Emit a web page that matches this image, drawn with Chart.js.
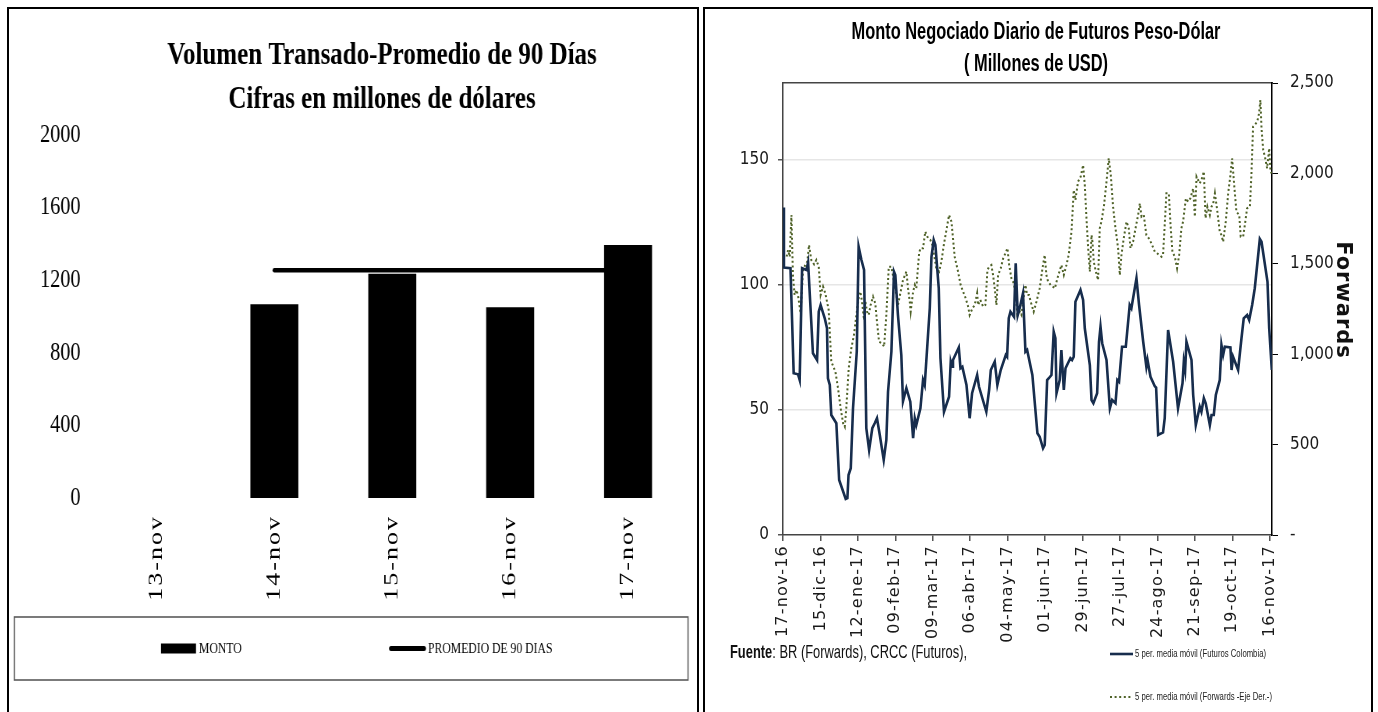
<!DOCTYPE html>
<html><head><meta charset="utf-8">
<script src="https://cdn.jsdelivr.net/npm/chart.js@4.4.1/dist/chart.umd.min.js"></script>
<style>
html,body{margin:0;padding:0;background:#fff;}
body{width:1378px;height:712px;overflow:hidden;position:relative;}
.panel{position:absolute;top:7px;height:716px;border:2px solid #000;box-sizing:border-box;overflow:hidden;background:#fff;}
#p1{left:7px;width:692px;}
#p2{left:703px;width:670px;}
#w1{width:882px;height:703px;transform:scaleX(0.78);transform-origin:0 0;}
canvas{display:block;}
</style></head><body>
<div class="panel" id="p1"><div id="w1"><canvas id="c1" width="882" height="703"></canvas></div></div>
<div class="panel" id="p2"><canvas id="c2" width="666" height="703"></canvas></div>
<script>
// ---------- Left chart data ----------
const barCategories = ['13-nov', '14-nov', '15-nov', '16-nov', '17-nov'];
const montoValues = [null, 1068, 1235, 1051, 1394];
const promedio90Values = [null, 1255, 1255, 1255, 1255];
const leftYTicks = [0, 400, 800, 1200, 1600, 2000];
const leftTitle = ['Volumen Transado-Promedio de 90 Días', 'Cifras en millones de dólares'];

// ---------- Right chart data ----------
const rightTitle = ['Monto Negociado Diario de Futuros Peso-Dólar', '( Millones de USD)'];
const sourceNote = ['Fuente', ': BR (Forwards), CRCC (Futuros),'];
const rightAxisTitle = 'Forwards';
const dateTickLabels = ['17-nov-16', '15-dic-16', '12-ene-17', '09-feb-17', '09-mar-17', '06-abr-17', '04-may-17',
  '01-jun-17', '29-jun-17', '27-jul-17', '24-ago-17', '21-sep-17', '19-oct-17', '16-nov-17'];
const dateTickDays = [0, 20, 40, 60, 80, 100, 120, 140, 160, 180, 200, 220, 240, 260];
const futYTicks = [0, 50, 100, 150];
const fwdYTicks = [0, 500, 1000, 1500, 2000, 2500];

const futurosDay = [0, 0.5, 4, 5.7, 8, 8.9, 10.2, 12.5, 13.4, 16, 18.2, 19.1, 20.1, 22.3, 23.5, 24, 25, 25.8, 28.5, 30,
  33.5, 34.4, 35, 36.2, 37.4, 39.4, 40.4, 41.9, 43.3, 44.5, 46, 47.7, 49, 50.2, 51.7, 53.8, 55.2, 56.1, 57.9, 59.3,
  60, 61.4, 63.2, 64.1, 65.9, 68, 69.5, 70.4, 71.2, 73.4, 74.8, 75.7, 78.4, 79.3, 80.5, 81.4, 83.2, 84.1, 86, 88.7,
  89.6, 90.3, 90.8, 93.9, 94.8, 95.8, 98, 99.7, 101, 103.7, 104.7, 108.6, 110.1, 111, 113.1, 114.5, 116.3, 119, 119.7, 120.6,
  121.5, 123.4, 124.3, 125.4, 126.5, 128.2, 129.5, 130.4, 133.2, 135.9, 137.1, 138.9, 139.8, 141.1, 142, 143.4, 144.6, 145.5, 146.1, 147.8,
  148.7, 150, 150.9, 153.5, 154.4, 155.3, 156.2, 158.9, 160.3, 161.2, 163.9, 164.8, 165.8, 167.8, 168.8, 169.6, 170.5, 172.8, 174.6, 175.8,
  177.6, 178.6, 179.5, 181.1, 183.1, 185.2, 186.1, 188.8, 190.2, 192.4, 194.1, 194.7, 196.3, 198.6, 199.3, 200.4, 203, 203.9, 205.7, 208.4,
  211, 213.4, 214.1, 214.8, 215.5, 218.2, 219.1, 220.5, 222.6, 223.5, 224.8, 225.8, 228, 228.9, 230.1, 231.2, 233.3, 234.2, 235.1, 236,
  239, 239.6, 240.4, 243.1, 244.9, 246.1, 247.9, 249, 250.6, 252, 254.7, 255.6, 258.8, 259.7, 261.1];
const futurosValue = [131, 107, 106.7, 64.7, 64.3, 62, 106.7, 106, 109, 72.7, 70, 89.3, 92, 86.7, 82.7, 62.7, 60, 48, 44.7, 22,
  14.4, 14.7, 24, 26.7, 50.7, 73.3, 115.3, 110, 106, 42.7, 34, 42.7, 44.7, 46.7, 40, 30, 38, 57.3, 73.3, 105.3,
  104, 88, 72, 53.5, 58.7, 53.3, 38.7, 46.7, 44, 50.7, 62, 60, 90.7, 111.3, 118, 116, 98.7, 70.7, 49.3, 55.3,
  69.3, 67.3, 70, 75, 66.7, 67.3, 60, 46.7, 56.7, 64, 59.3, 49.3, 58, 66, 69.3, 60, 66, 72, 71.3, 86.7,
  89.3, 87.3, 108.7, 88, 91, 96.7, 73.3, 74, 64, 40.7, 39.3, 34.7, 36, 62, 62.7, 64, 81.3, 78.7, 56.7, 62,
  74, 58, 66.7, 70.7, 70, 71.3, 93.3, 98, 94, 82.7, 68, 54, 52.7, 56.7, 77.3, 83.3, 76.7, 70, 50.7, 54,
  52.7, 62, 61.3, 75.3, 75.3, 92, 90.7, 102.7, 92, 77.3, 67.3, 70, 63.3, 59.5, 59, 40, 41, 46.7, 82, 69.3,
  50.7, 60.7, 69.3, 66, 77.3, 70, 56, 44, 51.3, 49.3, 54.7, 52.7, 44, 48, 48, 56, 62, 76, 72, 75.3,
  75, 66, 71.3, 66, 78.7, 86.7, 88, 86, 92, 98.7, 118.4, 117.3, 101.3, 82.7, 66];

const forwardsDay = [0, 1.8, 2.7, 3.6, 4.5, 5.3, 6.2, 7.1, 8, 9.4, 10.7, 11.9, 13, 13.9, 15.1, 16.6, 17.8, 19.1, 20.1, 21.4,
  22.6, 24.4, 25.8, 28, 29.4, 30.8, 32.1, 33, 33.8, 35.1, 36.5, 37.9, 39.2, 40.4, 41.3, 42.2, 43.3, 44, 44.9, 45.8,
  46.8, 48.1, 49.3, 50.2, 51.3, 52.9, 54, 55.2, 56.5, 57.9, 59.3, 60.6, 61.4, 63.2, 64.1, 65.9, 66.8, 67.7, 68.2, 69.5,
  70.4, 71.2, 72.7, 73.4, 74.8, 76, 77.5, 78.7, 79.8, 81, 81.9, 83.4, 84.6, 85.9, 87.3, 88.7, 90, 90.8, 91.7, 93.5,
  94.9, 96.2, 97.6, 98.9, 99.7, 101.2, 102.4, 103.7, 104.2, 105.4, 106.9, 108.1, 109.2, 110.1, 111.3, 112.2, 113.1, 114, 114.9, 116.3,
  117.6, 118.8, 119.9, 120.8, 122, 123.3, 124.3, 125.2, 126.5, 127.4, 128.2, 129.5, 130.4, 131.4, 132.3, 133.9, 135.4, 137.1, 138.6, 139.8,
  140.7, 141.6, 143, 145.2, 146.6, 148.7, 150, 151.4, 152.6, 154.1, 155.3, 156.2, 157.6, 159, 160.3, 161.2, 162.1, 163, 163.9, 164.8,
  165.3, 166, 167.1, 168.3, 169.2, 170.1, 171.5, 172.8, 174, 175.1, 176.3, 177.6, 179, 179.9, 180.8, 182, 183.5, 184.7, 185.6, 187,
  188.3, 189.7, 190.6, 191.5, 192.7, 194.1, 195.4, 196.8, 198.6, 199.8, 202.2, 203, 203.9, 204.8, 206.1, 207, 208, 209.3, 210.5, 211.6,
  212.8, 213.7, 215.2, 216.4, 217.6, 219.1, 220, 220.9, 222.6, 223.5, 224.8, 225.7, 226.7, 228, 228.9, 229.8, 230.7, 231.9, 233.3, 234.2,
  235.1, 236.5, 237.8, 239, 239.9, 241, 242.2, 243.7, 244.5, 245.8, 246.7, 247.9, 249.4, 250.2, 251.1, 252, 253.3, 254.3, 255, 255.6,
  256.5, 257.4, 258.6, 259.7, 260.4, 261.1];
const forwardsValue = [1539, 1534, 1576, 1539, 1770, 1438, 1327, 1355, 1327, 1226, 1466, 1493, 1512, 1604, 1521, 1497, 1521, 1484, 1327, 1374,
  1337, 1245, 959, 903, 811, 701, 618, 599, 701, 922, 1033, 1106, 1217, 1309, 1346, 1291, 1189, 1291, 1235, 1217,
  1272, 1318, 1281, 1180, 1069, 1060, 1042, 1217, 1484, 1484, 1401, 1327, 1272, 1364, 1410, 1457, 1364, 1291, 1235, 1346,
  1383, 1364, 1558, 1586, 1586, 1678, 1641, 1632, 1604, 1530, 1475, 1457, 1512, 1604, 1687, 1770, 1733, 1641, 1539, 1457,
  1383, 1346, 1309, 1263, 1217, 1254, 1272, 1337, 1272, 1300, 1263, 1272, 1466, 1484, 1493, 1438, 1364, 1272, 1438, 1475,
  1530, 1558, 1586, 1493, 1420, 1392, 1327, 1217, 1235, 1217, 1291, 1383, 1327, 1327, 1291, 1235, 1291, 1364, 1475, 1549,
  1438, 1401, 1383, 1364, 1420, 1493, 1438, 1493, 1549, 1678, 1908, 1853, 1954, 1982, 2046, 1936, 1752, 1586, 1457, 1659,
  1622, 1512, 1457, 1410, 1696, 1733, 1825, 1954, 2083, 1991, 1816, 1696, 1586, 1438, 1549, 1641, 1733, 1696, 1586, 1622,
  1696, 1770, 1834, 1761, 1770, 1659, 1641, 1613, 1567, 1558, 1539, 1549, 1715, 1890, 1890, 1715, 1567, 1539, 1475, 1549,
  1696, 1733, 1862, 1844, 1862, 1917, 1761, 1982, 1945, 1963, 2010, 1752, 1816, 1770, 1816, 1834, 1890, 1798, 1678, 1659,
  1622, 1733, 1890, 1991, 2083, 1936, 1788, 1770, 1650, 1650, 1715, 1807, 1816, 1991, 2258, 2268, 2286, 2332, 2406, 2249,
  2129, 2093, 2028, 2139, 2010, 2000];

// ---------- helpers ----------
const SERIF = '"Liberation Serif","Times New Roman",serif';
const NARROW = '"Liberation Sans Narrow","DejaVu Sans Condensed",Roboto,sans-serif';
const SANS = '"Liberation Sans",Arial,sans-serif';
const DJ = '"DejaVu Sans",Verdana,sans-serif';

function letterSpacingPlugin(id, map) {
  return {
    id: id,
    afterUpdate(chart) {
      for (const sid in map) {
        const s = chart.scales[sid];
        if (!s || s.__ls) continue;
        const orig = s.drawLabels;
        s.drawLabels = function (area) {
          const c = this.ctx; c.save(); c.letterSpacing = map[sid] + 'px'; orig.call(this, area); c.restore();
        };
        s.__ls = true;
      }
    }
  };
}
// draw text squeezed horizontally by factor sx (condensed face look)
function fillSqueezed(ctx, text, x, y, sx) {
  ctx.save(); ctx.translate(x, y); ctx.scale(sx, 1); ctx.fillText(text, 0, 0); ctx.restore();
}

// ---------- Left chart ----------
const S1 = 0.78;
const ix = o => (o - 9) / S1;
const iy = o => o - 9;
const W1 = 882, H1 = 703;

new Chart(document.getElementById('c1'), {
  type: 'bar',
  data: {
    labels: barCategories,
    datasets: [
      { type: 'bar', label: 'MONTO', data: montoValues, backgroundColor: '#000', borderWidth: 0,
        barPercentage: 0.407, categoryPercentage: 1, order: 0 },
      { type: 'line', label: 'PROMEDIO DE 90 DIAS', data: promedio90Values, borderColor: '#000', backgroundColor: '#000',
        borderWidth: 4.5, borderCapStyle: 'round', pointRadius: 0, tension: 0, order: 1 }
    ]
  },
  options: {
    responsive: false, animation: false, devicePixelRatio: 1,
    layout: { padding: { top: iy(135), left: 0, right: W1 - ix(687), bottom: H1 - iy(498) - 110 } },
    plugins: { legend: { display: false }, title: { display: false }, tooltip: { enabled: false } },
    scales: {
      x: {
        type: 'category', offset: true,
        grid: { display: false, drawTicks: false }, border: { display: false },
        ticks: { minRotation: 90, maxRotation: 90, autoSkip: false, padding: 17, color: '#000',
          font: { family: SERIF, size: 26 } },
        afterFit(s) { s.height = 110; }
      },
      y: {
        min: 0, max: 2000,
        grid: { display: false, drawTicks: false }, border: { display: false },
        afterBuildTicks(s) { s.ticks = leftYTicks.map(v => ({ value: v })); },
        ticks: { padding: ix(97.5) - ix(80.6), color: '#000', font: { family: SERIF, size: 26 },
          callback: v => String(v) },
        afterFit(s) { s.width = ix(97.5); }
      }
    }
  },
  plugins: [letterSpacingPlugin('ls1', { x: 2 }), {
    id: 'decor1',
    afterDraw(chart) {
      const ctx = chart.ctx; ctx.save();
      ctx.fillStyle = '#000'; ctx.textAlign = 'center'; ctx.textBaseline = 'middle';
      ctx.font = 'bold 32px ' + SERIF;
      ctx.fillText(leftTitle[0], ix(382), iy(56));
      ctx.fillText(leftTitle[1], ix(382), iy(100));
      // legend frame
      ctx.strokeStyle = '#5a5a5a'; ctx.lineWidth = 1.6;
      ctx.strokeRect(ix(14.3), iy(617), ix(688) - ix(14.3), iy(680) - iy(617));
      const ly = iy(648.5);
      const [bar, line] = chart.data.datasets;
      ctx.fillStyle = bar.backgroundColor;
      ctx.fillRect(ix(161), ly - 5, ix(196) - ix(161), 10);
      ctx.font = '15px ' + SERIF; ctx.textAlign = 'left'; ctx.fillStyle = '#000';
      ctx.fillText(bar.label, ix(199), ly + 1);
      ctx.beginPath(); ctx.strokeStyle = line.borderColor; ctx.lineWidth = 5; ctx.lineCap = 'round';
      ctx.moveTo(ix(391), ly); ctx.lineTo(ix(424), ly); ctx.stroke();
      ctx.fillText(line.label, ix(428), ly + 1);
      ctx.restore();
    }
  }]
});

// ---------- Right chart ----------
const px = o => o - 705;
const py = o => o - 9;
const W2 = 666, H2 = 703;

new Chart(document.getElementById('c2'), {
  type: 'line',
  data: {
    datasets: [
      { label: '5 per. media móvil (Futuros Colombia)', data: futurosDay.map((d, i) => ({ x: d, y: futurosValue[i] })),
        xAxisID: 'x', yAxisID: 'y', borderColor: '#172d4d', borderWidth: 2.6, pointRadius: 0, tension: 0, order: 0 },
      { label: '5 per. media móvil (Forwards -Eje Der.-)', data: forwardsDay.map((d, i) => ({ x: d, y: forwardsValue[i] })),
        xAxisID: 'x', yAxisID: 'y1', borderColor: '#4F6228', borderWidth: 2, borderDash: [2, 2.6], pointRadius: 0,
        tension: 0, order: 1 }
    ]
  },
  options: {
    responsive: false, animation: false, devicePixelRatio: 1,
    layout: { padding: { top: py(83), left: 0, right: 0, bottom: H2 - py(535) - 110 } },
    plugins: { legend: { display: false }, title: { display: false }, tooltip: { enabled: false } },
    scales: {
      x: {
        type: 'linear', position: 'bottom', min: 0, max: 261.2,
        afterBuildTicks(s) { s.ticks = dateTickDays.map(v => ({ value: v })); },
        ticks: { callback: (v, i) => dateTickLabels[i], minRotation: 90, maxRotation: 90, autoSkip: false, padding: 4,
          color: '#1a1a1a', font: { family: DJ, size: 16 } },
        grid: { display: true, drawOnChartArea: false, drawTicks: true, tickLength: 6, tickColor: '#555', lineWidth: 1.5 },
        border: { display: true, color: '#444', width: 1.5 },
        afterFit(s) { s.height = 110; }
      },
      xTop: {
        type: 'linear', position: 'top', min: 0, max: 261.2,
        ticks: { display: false }, grid: { display: false, drawTicks: false },
        border: { display: true, color: '#444', width: 1.5 },
        afterFit(s) { s.height = 0; }
      },
      y: {
        position: 'left', min: 0, max: 180.8,
        afterBuildTicks(s) { s.ticks = futYTicks.map(v => ({ value: v })); },
        ticks: { padding: 9, color: '#1a1a1a', font: { family: NARROW, size: 17 } },
        grid: { color: c => (c.tick && c.tick.value === 0 ? 'rgba(0,0,0,0)' : '#e6e6e6'), lineWidth: 1.5,
          tickColor: '#555', tickLength: 5 },
        border: { color: '#444', width: 1.5 },
        afterFit(s) { s.width = px(783); }
      },
      y1: {
        position: 'right', min: 0, max: 2500,
        afterBuildTicks(s) { s.ticks = fwdYTicks.map(v => ({ value: v })); },
        ticks: { padding: 12, color: '#1a1a1a', font: { family: NARROW, size: 17 },
          callback: v => (v === 0 ? '-' : v.toLocaleString('en-US')) },
        grid: { display: true, drawOnChartArea: false, drawTicks: true, tickLength: 6, tickColor: '#000' },
        border: { color: '#000', width: 1.5 },
        afterFit(s) { s.width = W2 - px(1272); }
      }
    }
  },
  plugins: [letterSpacingPlugin('ls2', { x: 1.2 }), {
    id: 'decor2',
    afterDraw(chart) {
      const ctx = chart.ctx; ctx.save();
      ctx.fillStyle = '#000'; ctx.textAlign = 'center'; ctx.textBaseline = 'middle';
      // title, condensed to the reference width
      ctx.font = 'bold 23px ' + SANS;
      const ts = 369 / ctx.measureText(rightTitle[0]).width;
      fillSqueezed(ctx, rightTitle[0], px(1036), py(33), ts);
      fillSqueezed(ctx, rightTitle[1], px(1036), py(65), ts);
      // right axis title
      ctx.save();
      ctx.translate(px(1342), py(300)); ctx.rotate(Math.PI / 2);
      ctx.font = 'bold 21px ' + DJ; ctx.letterSpacing = '1px';
      ctx.fillStyle = '#111';
      ctx.fillText(rightAxisTitle, 0, 0);
      ctx.restore();
      // source note
      ctx.textAlign = 'left'; ctx.fillStyle = '#111';
      ctx.font = 'bold 18px ' + SANS;
      const wB = ctx.measureText(sourceNote[0]).width;
      ctx.font = '18px ' + SANS;
      const wR = ctx.measureText(sourceNote[1]).width;
      const ss = 237 / (wB + wR);
      ctx.save(); ctx.translate(px(730), py(653)); ctx.scale(ss, 1);
      ctx.font = 'bold 18px ' + SANS; ctx.fillText(sourceNote[0], 0, 0);
      ctx.font = '18px ' + SANS; ctx.fillText(sourceNote[1], wB, 0);
      ctx.restore();
      // legend
      const ys = [654, 697];
      ctx.font = '11px ' + SANS;
      const ls = 131 / ctx.measureText(chart.data.datasets[0].label).width;
      chart.data.datasets.forEach((ds, i) => {
        const y = py(ys[i]);
        ctx.beginPath(); ctx.strokeStyle = ds.borderColor; ctx.lineWidth = ds.borderWidth;
        ctx.setLineDash(ds.borderDash || []);
        ctx.moveTo(px(1110), y); ctx.lineTo(px(1133), y); ctx.stroke();
        ctx.setLineDash([]);
        ctx.font = '11px ' + SANS; ctx.fillStyle = '#222';
        fillSqueezed(ctx, ds.label, px(1135), y, ls);
      });
      ctx.restore();
    }
  }]
});
</script>
</body></html>
